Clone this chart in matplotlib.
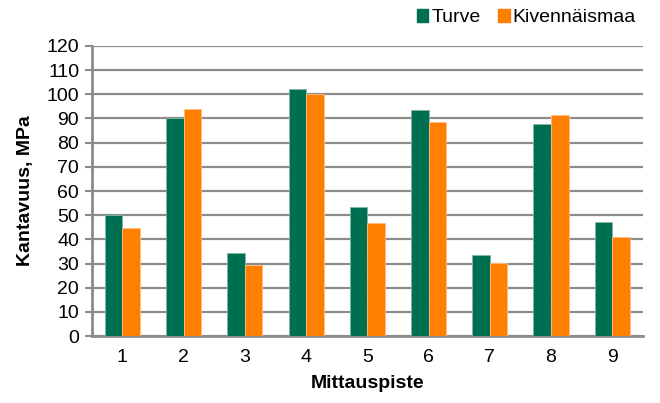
import matplotlib.pyplot as plt
import numpy as np
from matplotlib.patches import Patch

plt.rcParams['font.family'] = ['Liberation Sans', 'DejaVu Sans']

# Mittauspisteet ja kantavuudet (MPa)
pisteet = ['1', '2', '3', '4', '5', '6', '7', '8', '9']
turve = [50, 90, 34.5, 102, 53.5, 93.5, 33.5, 87.7, 47.2]
kivennaismaa = [44.7, 94, 29.5, 100.2, 46.8, 88.6, 30.2, 91.5, 41]

vihrea = '#006F51'
oranssi = '#FF7F00'
fs = 14

fig = plt.figure(figsize=(6.6, 4.03), dpi=100)
ax = fig.add_axes([0.139, 0.166, 0.835, 0.72])

x = np.arange(len(pisteet))
w = 0.286
ax.bar(x - w / 2, turve, w, color=vihrea, edgecolor='#7fb7a8', linewidth=0.6, zorder=3)
ax.bar(x + w / 2, kivennaismaa, w, color=oranssi, edgecolor='#ffbf80', linewidth=0.6, zorder=3)

ax.set_xlim(-0.5, len(pisteet) - 0.5)
ax.set_ylim(0, 120)
ax.set_yticks(range(0, 121, 10))
ax.set_xticks(x)
ax.set_xticklabels(pisteet)

# Vaakaviivat ja akselit
ax.grid(axis='y', color='#8c8c8c', linewidth=1.6, zorder=0)
for s in ['top', 'right']:
    ax.spines[s].set_visible(False)
for s in ['left', 'bottom']:
    ax.spines[s].set_color('#8c8c8c')
    ax.spines[s].set_linewidth(2)
ax.tick_params(axis='y', length=5, width=1.5, color='#8c8c8c', labelsize=fs, pad=4)
ax.tick_params(axis='x', length=0, labelsize=fs, pad=9)

ax.set_xlabel('Mittauspiste', fontsize=fs, fontweight='bold', labelpad=7)
ax.set_ylabel('Kantavuus, MPa', fontsize=fs, fontweight='bold', labelpad=9)

handles = [Patch(color=vihrea, label='Turve'), Patch(color=oranssi, label='Kivennäismaa')]
fig.legend(handles=handles, loc='upper right', bbox_to_anchor=(0.99, 1.02), ncol=2,
           frameon=False, fontsize=fs, handlelength=0.6, handleheight=0.6,
           handletextpad=0.15, columnspacing=0.9)

plt.savefig('out.png', dpi=100)
